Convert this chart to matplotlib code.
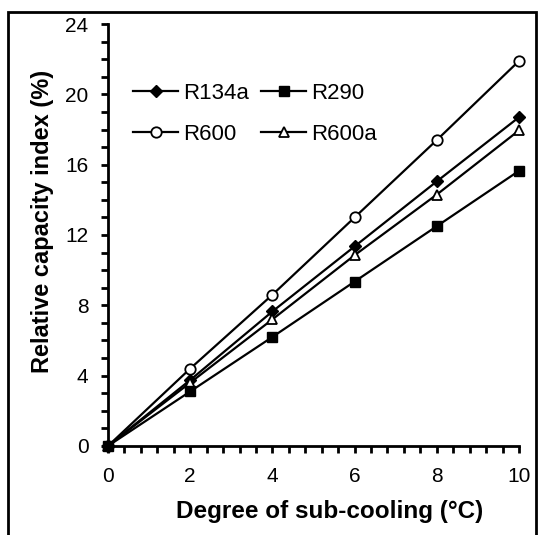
import matplotlib
matplotlib.use("Agg")
import matplotlib.pyplot as plt
from matplotlib.ticker import MultipleLocator
from matplotlib.patches import Rectangle

plt.rcParams['font.family'] = ['Liberation Sans', 'DejaVu Sans']

# degree of sub-cooling (C)
subcool = [0, 2, 4, 6, 8, 10]

# relative capacity index (%)
r134a = [0, 3.75, 7.65, 11.35, 15.05, 18.7]
r290 = [0, 3.1, 6.2, 9.35, 12.5, 15.65]
r600 = [0, 4.4, 8.6, 13.0, 17.4, 21.9]
r600a = [0, 3.6, 7.2, 10.85, 14.3, 17.95]


def main():
    fig = plt.figure(figsize=(5.38, 5.35), dpi=100)
    ax = fig.add_axes([0.2007, 0.1664, 0.764, 0.7887])

    kw = dict(color='black', lw=1.6)
    l1, = ax.plot(subcool, r134a, marker='D', ms=6, mfc='black', mec='black', label='R134a', **kw)
    l3, = ax.plot(subcool, r600, marker='o', ms=7.5, mfc='white', mec='black', mew=1.3, label='R600', **kw)
    l4, = ax.plot(subcool, r600a, marker='^', ms=7, mfc='white', mec='black', mew=1.3, label='R600a', **kw)
    l2, = ax.plot(subcool, r290, marker='s', ms=7.5, mfc='black', mec='black', label='R290', **kw)

    ax.set_xlim(0, 10)
    ax.set_ylim(0, 24)
    ax.xaxis.set_major_locator(MultipleLocator(2))
    ax.xaxis.set_minor_locator(MultipleLocator(0.4))
    ax.yaxis.set_major_locator(MultipleLocator(4))
    ax.yaxis.set_minor_locator(MultipleLocator(1))
    ax.tick_params(which='both', direction='out', length=5, width=2, labelsize=15)
    ax.tick_params(axis='x', pad=10)
    ax.tick_params(axis='y', pad=9)

    for s in ('top', 'right'):
        ax.spines[s].set_visible(False)
    for s in ('left', 'bottom'):
        ax.spines[s].set_linewidth(2)
    for ln in ax.lines:
        ln.set_clip_on(False)

    ax.set_xlabel('Degree of sub-cooling (\u00b0C)', fontsize=17.5, fontweight='bold')
    ax.xaxis.set_label_coords(0.54, -0.128)
    ax.set_ylabel('Relative capacity index (%)', fontsize=17, fontweight='bold')
    ax.yaxis.set_label_coords(-0.132, 0.533)

    ax.legend([l1, l3, l2, l4], ['R134a', 'R600', 'R290', 'R600a'], ncol=2,
              loc='upper left', bbox_to_anchor=(0.04, 0.881), borderaxespad=0,
              frameon=False, fontsize=16, handlelength=2.0, handletextpad=0.25,
              columnspacing=0.55, labelspacing=0.9)

    # frame around the whole figure
    fig.patches.append(Rectangle((8 / 538, -0.01), 528 / 538, 1.01 - 12 / 535,
                                 transform=fig.transFigure, fill=False,
                                 edgecolor='black', lw=2))

    fig.savefig('out.png', dpi=100)


if __name__ == '__main__':
    main()
